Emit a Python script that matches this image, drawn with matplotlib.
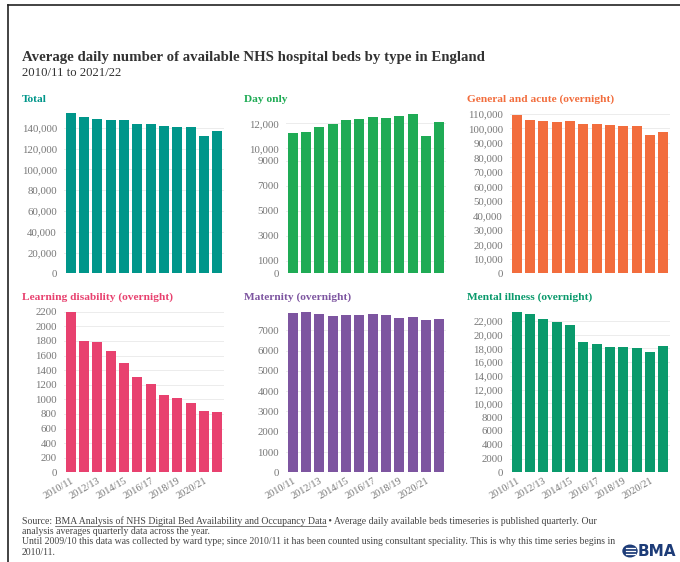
import numpy as np
import matplotlib
matplotlib.use('Agg')
from matplotlib import pyplot as plt
from matplotlib.lines import Line2D
from matplotlib.patches import Circle
from matplotlib.ticker import FuncFormatter

W, H = 680, 562

years = ['2010/11', '2011/12', '2012/13', '2013/14', '2014/15', '2015/16',
         '2016/17', '2017/18', '2018/19', '2019/20', '2020/21', '2021/22']

total = [153800, 150200, 148700, 148000, 148000, 144100,
         144100, 142200, 141200, 141200, 132300, 136700]
day_only = [11250, 11280, 11730, 11950, 12270, 12370,
            12530, 12430, 12590, 12750, 11010, 12110]
general_acute = [109300, 105900, 104950, 104700, 104950, 103300,
                 103300, 102400, 101500, 101700, 95300, 97600]
learning_dis = [2190, 1804, 1781, 1667, 1502, 1311,
                1215, 1064, 1023, 950, 840, 822]
maternity = [7838, 7903, 7821, 7706, 7772, 7739,
             7788, 7739, 7624, 7641, 7493, 7575]
mental = [23300, 22920, 22240, 21760, 21330, 18860,
          18570, 18180, 18230, 17990, 17410, 18330]

panel_titles = ['Total', 'Day only', 'General and acute (overnight)',
                'Learning disability (overnight)', 'Maternity (overnight)',
                'Mental illness (overnight)']
panel_data = [total, day_only, general_acute, learning_dis, maternity, mental]
panel_colors = ['#00968a', '#1fab55', '#f26d3d', '#e8416f', '#7d55a0', '#0a9a6c']
panel_ticks = [list(range(0, 140001, 20000)),
               [0, 1000, 3000, 5000, 7000, 9000, 10000, 12000],
               list(range(0, 110001, 10000)),
               list(range(0, 2201, 200)),
               list(range(0, 7001, 1000)),
               list(range(0, 22001, 2000))]
panel_ymax = [161000, 13400, 115500, 2265, 8150, 24000]

serif = 'Liberation Serif'
plt.rcParams['font.family'] = serif

fig = plt.figure(figsize=(W / 100, H / 100), dpi=100)
fig.patch.set_facecolor('white')

def fx(px):
    return px / W

def fy(py):
    return 1 - py / H

# frame lines at top/left like the screenshot
fig.add_artist(Line2D([fx(8), 1], [fy(5), fy(5)], color='#222222', lw=1.2))
fig.add_artist(Line2D([fx(8), fx(8)], [fy(5), 0], color='#222222', lw=1.2))

fig.text(fx(22), fy(58), 'Average daily number of available NHS hospital beds by type in England',
         fontsize=10.7, fontweight='bold', color='#333333', va='center')
fig.text(fx(22), fy(73), '2010/11 to 2021/22', fontsize=9.2, color='#333333', va='center')

col_left = [64, 286, 510]
row_zero = [273.3, 472.3]
row_top = [106, 307]
title_x = [22, 244, 467]
title_y = [99, 297]
ax_w = 160

def fmt(v, pos):
    v = int(v)
    return '{:,}'.format(v) if v >= 10000 else str(v)

x = np.arange(len(years))
for i in range(6):
    r, c = divmod(i, 3)
    ax = fig.add_axes([fx(col_left[c]), fy(row_zero[r]), ax_w / W,
                       (row_zero[r] - row_top[r]) / H])
    ax.bar(x, panel_data[i], width=0.75, color=panel_colors[i], zorder=2)
    ax.set_xlim(-0.5, len(years) - 0.5)
    ax.set_ylim(0, panel_ymax[i])
    ax.set_yticks(panel_ticks[i])
    ax.yaxis.set_major_formatter(FuncFormatter(fmt))
    ax.grid(axis='y', color='#ececec', lw=0.7, zorder=0)
    for s in ax.spines.values():
        s.set_visible(False)
    ax.tick_params(axis='y', length=0, pad=5, labelsize=7.8, labelcolor='#777777')
    ax.tick_params(axis='x', length=0, pad=3, labelsize=7.4, labelcolor='#777777')
    if r == 1:
        ax.set_xticks(x[::2])
        ax.set_xticklabels(years[::2], rotation=30, ha='right', rotation_mode='anchor')
    else:
        ax.set_xticks([])
    fig.text(fx(title_x[c]), fy(title_y[r]), panel_titles[i], fontsize=8.2,
             fontweight='bold', color=panel_colors[i], va='center')

# footer
fs = 7.0
fcol = '#444444'
fig.canvas.draw()
renderer = fig.canvas.get_renderer()
t1 = fig.text(fx(22), fy(521.5), 'Source: ', fontsize=fs, color=fcol, va='center')
bb = t1.get_window_extent(renderer)
link = fig.text(bb.x1 / W, fy(521.5), 'BMA Analysis of NHS Digital Bed Availability and Occupancy Data',
                fontsize=fs, color=fcol, va='center')
lb = link.get_window_extent(renderer)
fig.add_artist(Line2D([lb.x0 / W, lb.x1 / W], [(lb.y0 + 0.5) / H] * 2, color=fcol, lw=0.5))
fig.text(lb.x1 / W, fy(521.5),
         ' \u2022 Average daily available beds timeseries is published quarterly. Our',
         fontsize=fs, color=fcol, va='center')
fig.text(fx(22), fy(532), 'analysis averages quarterly data across the year.',
         fontsize=fs, color=fcol, va='center')
fig.text(fx(22), fy(542), 'Until 2009/10 this data was collected by ward type; since 2010/11 it has been '
         'counted using consultant speciality. This is why this time series begins in',
         fontsize=fs, color=fcol, va='center')
fig.text(fx(22), fy(552.5), '2010/11.', fontsize=fs, color=fcol, va='center')

# BMA logo
navy = '#1d3c78'
fig.add_artist(Circle((fx(630), fy(551)), 7 / W, transform=fig.transFigure, color=navy))
for dy in (-3, 0, 3):
    fig.add_artist(Line2D([fx(625.5), fx(634.5)], [fy(551 + dy)] * 2, color='white', lw=0.9))
fig.text(fx(638), fy(551.5), 'BMA', fontsize=11, fontweight='bold', color=navy,
         family='DejaVu Sans', va='center')

fig.savefig('out.png', dpi=100, facecolor='white')
